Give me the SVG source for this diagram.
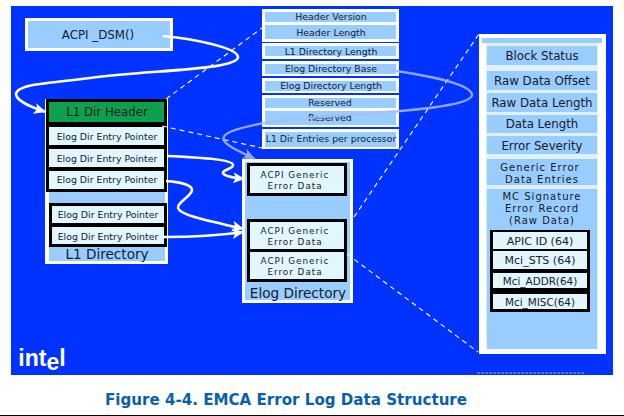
<svg xmlns="http://www.w3.org/2000/svg" width="624" height="416" viewBox="0 0 624 416">
<style>
text{font-family:"DejaVu Sans","Liberation Sans",sans-serif;text-anchor:middle;fill:#14202e}
.w{fill:#fff}.lb{fill:#99ccff}.k{fill:#000}.p{fill:#e2f6ff}
.s8{font-size:9.400px}.s9{font-size:10.400px}.s10{font-size:11.800px}.s11{font-size:13.600px}.s12{font-size:11px}
.t1{font-size:8.800px;letter-spacing:1px}.t2{font-size:10px;letter-spacing:1px}
.c{fill:none;stroke:#fff;stroke-width:2.600}
.d{fill:none;stroke:#fff;stroke-width:1.100;stroke-dasharray:5 4}
</style>
<defs>
<marker id="a" markerUnits="userSpaceOnUse" markerWidth="13" markerHeight="11" refX="12" refY="5.500" orient="auto"><path d="M0 0L12 5.500L0 11L3 5.500Z" fill="#fff"/></marker>
<marker id="b" markerUnits="userSpaceOnUse" markerWidth="13" markerHeight="11" refX="12" refY="5.500" orient="auto"><path d="M0 0L12 5.500L0 11L3 5.500Z" fill="#a6bcff"/></marker>
</defs>
<rect width="624" height="416" fill="#fff"/>
<rect x="11" y="6" width="602" height="369" fill="#0033ff"/>
<rect x="0" y="415" width="624" height="1" fill="#000"/>

<g id="acpi-dsm"><rect class="w" x="25" y="18" width="148" height="33"/><rect class="lb" x="28" y="21" width="142" height="27"/><text class="s10" x="98" y="39">ACPI _DSM()</text></g>

<g id="l1-directory">
<rect class="w" x="45" y="99" width="123" height="165"/><rect class="lb" x="49" y="190" width="116" height="71"/>
<rect class="k" x="46" y="99" width="121" height="93"/>
<rect fill="#0ca14a" x="49" y="102" width="115" height="20"/><text class="s10" x="107" y="116">L1 Dir Header</text>
<rect class="p" x="49" y="127" width="115" height="18"/><text class="s8" x="107" y="140">Elog Dir Entry Pointer</text>
<rect class="p" x="49" y="149" width="115" height="18"/><text class="s8" x="107" y="161.500">Elog Dir Entry Pointer</text>
<rect class="p" x="49" y="171" width="115" height="18"/><text class="s8" x="107" y="183">Elog Dir Entry Pointer</text>
<rect class="k" x="49" y="203" width="118" height="44"/>
<rect class="p" x="52" y="206" width="112" height="17"/><text class="s8" x="108" y="218">Elog Dir Entry Pointer</text>
<rect class="p" x="52" y="227" width="112" height="17"/><text class="s8" x="108" y="239.500">Elog Dir Entry Pointer</text>
<text class="s11" x="107" y="259">L1 Directory</text>
</g>

<g id="l1-header-fields">
<rect class="w" x="262" y="9" width="137" height="33"/><rect class="w" x="262" y="43" width="137" height="16"/><rect class="w" x="262" y="61" width="137" height="15"/><rect class="w" x="262" y="78" width="137" height="15"/><rect class="w" x="262" y="95" width="137" height="32"/><rect class="w" x="262" y="129" width="137" height="20"/>
<rect class="lb" x="265" y="12" width="131" height="10"/><rect class="lb" x="265" y="25" width="131" height="14"/><rect class="lb" x="265" y="46" width="131" height="10"/><rect class="lb" x="265" y="64" width="131" height="10"/><rect class="lb" x="265" y="81" width="131" height="10"/><rect class="lb" x="265" y="98" width="131" height="10"/><rect class="lb" x="265" y="111" width="131" height="14"/><rect class="lb" x="265" y="132" width="131" height="15"/>
<text class="s8" x="331" y="20">Header Version</text><text class="s8" x="331" y="36">Header Length</text><text class="s8" x="331" y="54.500">L1 Directory Length</text><text class="s8" x="331" y="71.500">Elog Directory Base</text><text class="s8" x="331" y="89">Elog Directory Length</text><text class="s8" x="330" y="106">Reserved</text><text class="s8" x="330" y="121">Reserved</text><text class="s8" x="331" y="142">L1 Dir Entries per processor</text>
</g>

<g id="elog-directory">
<rect class="w" x="242" y="159" width="111" height="144"/><rect class="lb" x="245" y="162" width="105" height="138"/>
<rect class="k" x="247" y="163" width="100" height="33"/><rect class="k" x="247" y="219" width="100" height="63"/>
<rect class="p" x="250" y="166" width="94" height="27"/><rect class="p" x="250" y="222" width="94" height="27"/><rect class="p" x="250" y="252" width="94" height="27"/>
<text class="t1" x="295" y="178">ACPI Generic</text><text class="t1" x="295" y="189">Error  Data</text>
<text class="t1" x="295" y="234">ACPI Generic</text><text class="t1" x="295" y="245">Error  Data</text>
<text class="t1" x="295" y="263.500">ACPI Generic</text><text class="t1" x="295" y="274.500">Error  Data</text>
<text class="s11" x="298" y="298">Elog Directory</text>
</g>

<g id="error-record">
<rect class="w" x="479" y="34" width="127" height="320"/><rect class="lb" x="482" y="38" width="120" height="5"/>
<rect x="486" y="43" width="112" height="306" fill="#dff0ff"/>
<rect class="lb" x="487" y="46" width="110" height="19"/><rect class="lb" x="487" y="71" width="110" height="19"/><rect class="lb" x="487" y="93" width="110" height="19"/><rect class="lb" x="487" y="115" width="110" height="18"/><rect class="lb" x="487" y="136" width="110" height="18"/><rect class="lb" x="487" y="159" width="110" height="26"/><rect class="lb" x="487" y="189" width="110" height="160"/>
<rect class="k" x="490" y="230" width="100" height="82"/>
<rect class="p" x="493" y="232" width="94" height="17"/><rect class="p" x="493" y="251" width="94" height="18"/><rect class="p" x="493" y="273" width="94" height="15"/><rect class="p" x="493" y="294" width="94" height="15"/>
<text class="s10" x="542" y="60">Block Status</text><text class="s10" x="542" y="85">Raw Data Offset</text><text class="s10" x="542" y="107">Raw Data Length</text><text class="s10" x="542" y="128">Data Length</text><text class="s10" x="542" y="150">Error Severity</text><text class="t2" x="540" y="171">Generic Error</text><text class="t2" x="542" y="183">Data Entries</text>
<text class="t2" x="542" y="200">MC Signature</text><text class="t2" x="542" y="212">Error Record</text><text class="t2" x="542" y="224">(Raw Data)</text>
<text class="s12" x="540" y="245">APIC ID (64)</text><text class="s12" x="540" y="264">Mci_STS (64)</text><text class="s9" x="540" y="285">Mci_ADDR(64)</text><text class="s9" x="540" y="306">Mci_MISC(64)</text>
</g>

<g id="connectors">
<path class="d" d="M166 99L262 28"/><path class="d" d="M162 126L262 148"/><path class="d" d="M354 217L479 34"/><path class="d" d="M347 254L478 352"/>
<path fill="none" stroke="#a6bcff" stroke-width="2.400" opacity=".85" marker-end="url(#b)" d="M390 70C430 76 472 84 472 95C472 112 320 114 270 122C235 128 218 134 225 142C230 148 245 154 255 159"/>
<path class="c" marker-end="url(#a)" d="M163 36C195 39 238 48 238 57C238 70 150 70 90 78C50 83 17 84 16 94C16 100 30 107 46 112"/>
<path class="c" marker-end="url(#a)" d="M167 156C190 157 233 159 233 165C233 169 222 170 223 173C224 176 235 178 245 179"/>
<path class="c" marker-end="url(#a)" d="M166 181C180 182 192 185 192 190C192 196 177 202 178 208C180 216 215 222 244 229"/>
<path class="c" marker-end="url(#a)" d="M164 237C190 237 215 236 244 232"/>
</g>

<g id="footer">
<path d="M476 360H587" stroke="#0a2bd8" stroke-width="1"/><path d="M477 373H585" stroke="#9fb4ff" stroke-width="1" stroke-dasharray="3 1"/>
<text x="42" y="366" style="fill:#fff;font-family:'Liberation Sans',sans-serif;font-weight:bold;font-size:23px">int<tspan dy="4">e</tspan><tspan dy="-4">l</tspan></text>
<text x="286" y="405" style="fill:#0860a8;font-weight:bold;font-size:15.100px">Figure 4-4. EMCA Error Log Data Structure</text>
</g>
</svg>
